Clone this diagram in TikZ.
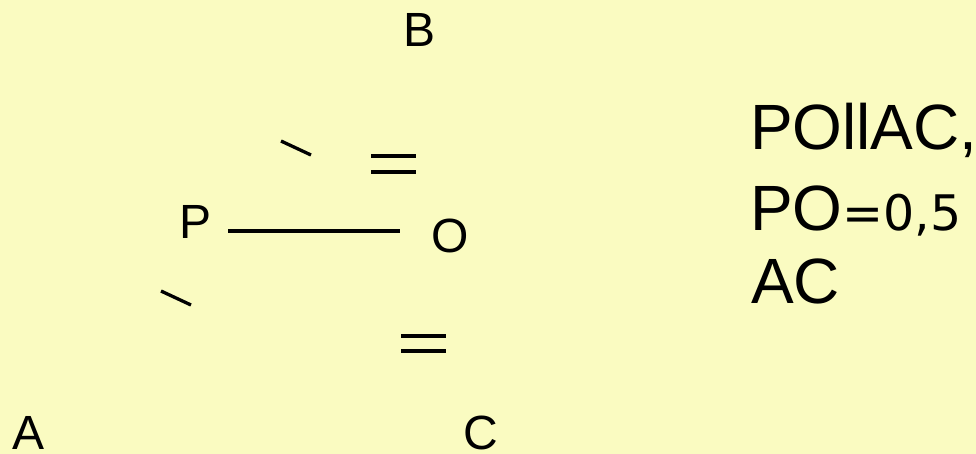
\documentclass[tikz,border=0pt]{standalone}
\usepackage{fontspec}
\setmainfont{Liberation Sans}
\newfontfamily\djv{DejaVu Sans}
\definecolor{bgyellow}{RGB}{250,251,193}
\begin{document}
\begin{tikzpicture}[x=1pt,y=-1pt,
  lbl/.style={inner sep=0pt,outer sep=0pt,anchor=base,font=\fontsize{48}{48}\selectfont},
  rtxt/.style={inner sep=0pt,outer sep=0pt,anchor=base west,font=\fontsize{64}{64}\selectfont},
  seg/.style={line width=3.3pt,line cap=butt}]
\fill[bgyellow] (0,0) rectangle (976,454);
\useasboundingbox (0,0) rectangle (976,454);
% vertex labels
\node[lbl] (B) at (420,47) {B};
\node[lbl] (P) at (196,239) {P};
\node[lbl] (O) at (450,252) {O};
\node[lbl] (A) at (29,449) {A};
\node[lbl] (C) at (481,449) {C};
% segment PO
\coordinate (p1) at (228,231);
\coordinate (o1) at (400,231);
\draw[seg] (p1) -- (o1);
% tick marks
\draw[seg] (281,141) -- (311,155);
\draw[seg] (161,291) -- (191,305);
\draw[seg] (371,156) -- (416,156);
\draw[seg] (371,172) -- (416,172);
\draw[seg] (401,336) -- (446,336);
\draw[seg] (401,351) -- (446,351);
% right text
\node[rtxt] (t1) at (750,150) {POllAC,};
\node[rtxt] (t2) at (750,230) {PO{\djv\fontsize{49}{49}\selectfont =0,5}};
\node[rtxt] (t3) at (751,303) {AC};
\end{tikzpicture}
\end{document}
